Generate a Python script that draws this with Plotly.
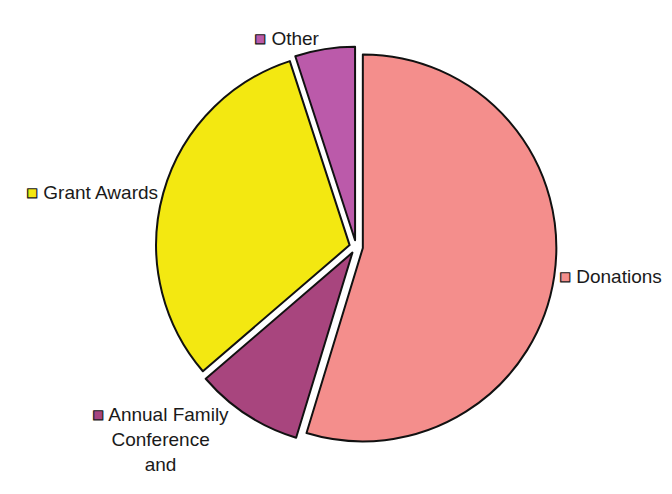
import plotly.graph_objects as go

labels = ["Donations", "Annual Family<br>Conference<br>and", "Grant Awards", "Other"]
values = [54.7, 9.0, 31.3, 5.0]
colors = ["#F48E8C", "#A8457E", "#F3E811", "#BB5AAA"]

texts = [
    f"<span style='color:{c};stroke:#222;stroke-width:1.2px'>■</span> {l}"
    for l, c in zip(labels, colors)
]

fig = go.Figure(go.Pie(
    labels=labels,
    values=values,
    text=texts,
    textinfo="text",
    textposition="outside",
    sort=False,
    direction="clockwise",
    rotation=0,
    pull=[0.035, 0.035, 0.035, 0.035],
    marker=dict(colors=colors, line=dict(color="#111111", width=2)),
    textfont=dict(family="Liberation Sans, Arial, sans-serif", size=19, color="#1a1a1a"),
    showlegend=False,
    hoverinfo="label+percent",
    domain=dict(x=[0.1995, 0.8195], y=[0.112, 0.942]),
))

fig.update_layout(
    width=672, height=494,
    margin=dict(l=0, r=0, t=0, b=0),
    paper_bgcolor="white",
    plot_bgcolor="white",
)

fig.write_html("out.html")
